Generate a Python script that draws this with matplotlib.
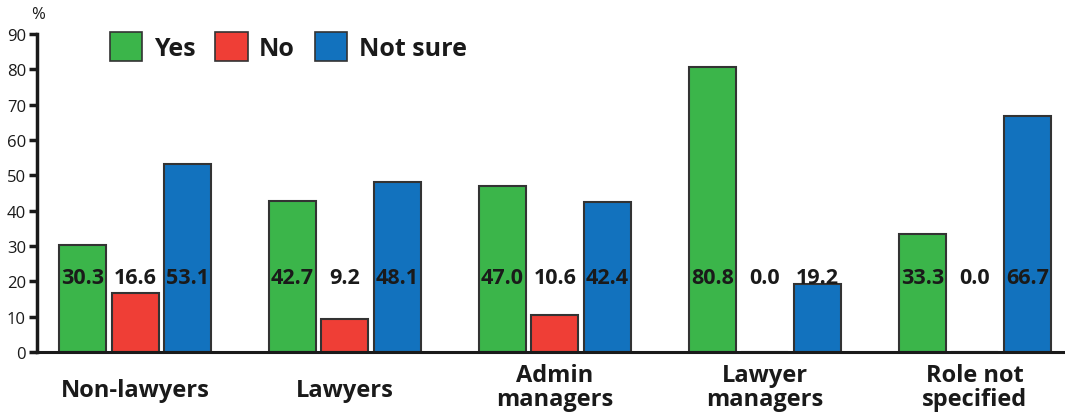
import matplotlib
matplotlib.use("Agg")
import matplotlib.pyplot as plt
from matplotlib.patches import Patch
from matplotlib.transforms import ScaledTranslation
import numpy as np

categories = ["Non-lawyers", "Lawyers", "Admin\nmanagers", "Lawyer\nmanagers", "Role not\nspecified"]
series_names = ["Yes", "No", "Not sure"]
yes = [30.3, 42.7, 47.0, 80.8, 33.3]
no = [16.6, 9.2, 10.6, 0.0, 0.0]
not_sure = [53.1, 48.1, 42.4, 19.2, 66.7]
yticks = [0, 10, 20, 30, 40, 50, 60, 70, 80, 90]

colors = ["#3bb54a", "#ef3e36", "#1272be"]
edge = "#333333"
txt = "#1a1a1a"
plt.rcParams['font.family'] = ['Open Sans', 'DejaVu Sans']

fig = plt.figure(figsize=(10.65, 4.14), dpi=100)
ax = fig.add_axes([37/1065, 61/414, (1065-37)/1065, 318/414])

x = np.arange(len(categories))
w = 0.224
off = 0.25
label_y = 21.0
for i, (vals, c) in enumerate(zip([yes, no, not_sure], colors)):
    xs = x + (i - 1) * off
    ax.bar(xs, vals, width=w, color=c, edgecolor=edge, linewidth=1.5, zorder=2)
    for xi, v in zip(xs, vals):
        ax.text(xi, label_y, f"{v:.1f}", ha="center", va="center",
                fontsize=15.5, fontweight="bold", color=txt, zorder=3)

ax.set_xlim(-0.467, 4.43)
ax.set_ylim(0, 90)
ax.set_yticks(yticks)
ax.set_yticklabels([str(t) for t in yticks], fontsize=12, color=txt)
ax.set_xticks([])
for xi, cat in zip(x, categories):
    dy = 38 if "\n" not in cat else 35
    tr = ax.get_xaxis_transform() + ScaledTranslation(0, -dy / 100, fig.dpi_scale_trans)
    ax.text(xi, 0, cat, transform=tr, ha="center", va="center", fontsize=17,
            fontweight="bold", color=txt, linespacing=0.95, clip_on=False)
ax.tick_params(axis="y", direction="out", length=6, width=2.5, color=txt, pad=2)
for s in ["top", "right"]:
    ax.spines[s].set_visible(False)
ax.spines["left"].set_linewidth(2.5)
ax.spines["left"].set_color(txt)
ax.spines["bottom"].set_linewidth(2.2)
ax.spines["bottom"].set_color(txt)

fig.text(38/1065, 1 - 15/414, "%", ha="center", va="center", fontsize=12, color=txt)

handles = [Patch(facecolor=c, edgecolor=edge, linewidth=1.2) for c in colors]
leg = ax.legend(handles, series_names, loc="upper left", bbox_to_anchor=(0.071, 1.006),
                ncol=3, frameon=False, prop={"size": 18, "weight": "bold"},
                borderpad=0, borderaxespad=0,
                handlelength=1.3, handleheight=1.4, handletextpad=0.45, columnspacing=0.8)
for t in leg.get_texts():
    t.set_color(txt)

fig.savefig("out.png", dpi=100)
